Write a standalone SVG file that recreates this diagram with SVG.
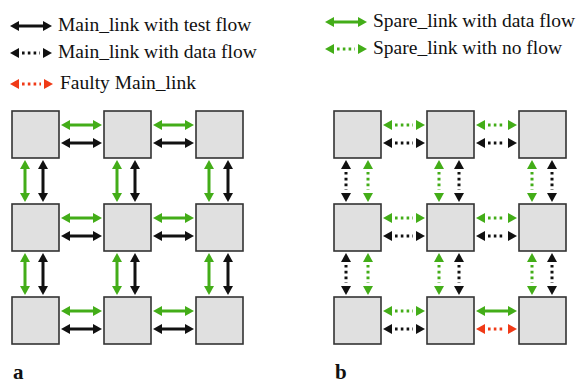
<svg xmlns="http://www.w3.org/2000/svg" width="576" height="385" viewBox="0 0 576 385">
<style>
.box{fill:#e0e0e0;stroke:#333;stroke-width:1.6}
.ln{fill:none;stroke-width:3}
.k{stroke:#111}
.g{stroke:#43ad18}
.r{stroke:#f03a17}
.s.k{marker-start:url(#hk);marker-end:url(#hk)}
.s.g{marker-start:url(#hg);marker-end:url(#hg)}
.d{stroke-dasharray:2.6 3.2}
.d.k{marker-start:url(#dk);marker-end:url(#dk)}
.d.g{marker-start:url(#dg);marker-end:url(#dg)}
.d.r{marker-start:url(#dr);marker-end:url(#dr)}
.t{font-size:19.5px;fill:#111}
.lbl{font-size:21px;font-weight:bold;fill:#111}
</style>
<defs>
<marker id="hk" viewBox="0 0 9 10" refX="4" refY="5" markerWidth="9" markerHeight="10" markerUnits="userSpaceOnUse" orient="auto-start-reverse"><path d="M0,0L9,5L0,10z" fill="#111"/></marker>
<marker id="hg" viewBox="0 0 9 10" refX="4" refY="5" markerWidth="9" markerHeight="10" markerUnits="userSpaceOnUse" orient="auto-start-reverse"><path d="M0,0L9,5L0,10z" fill="#43ad18"/></marker>
<marker id="dk" viewBox="0 0 9 10" refX="-3" refY="5" markerWidth="9" markerHeight="10" markerUnits="userSpaceOnUse" orient="auto-start-reverse"><path d="M0,0L9,5L0,10z" fill="#111"/></marker>
<marker id="dg" viewBox="0 0 9 10" refX="-3" refY="5" markerWidth="9" markerHeight="10" markerUnits="userSpaceOnUse" orient="auto-start-reverse"><path d="M0,0L9,5L0,10z" fill="#43ad18"/></marker>
<marker id="dr" viewBox="0 0 9 10" refX="-3" refY="5" markerWidth="9" markerHeight="10" markerUnits="userSpaceOnUse" orient="auto-start-reverse"><path d="M0,0L9,5L0,10z" fill="#f03a17"/></marker>
</defs>
<rect width="576" height="385" fill="#fff"/>

<g id="legend" font-family="Liberation Serif, DejaVu Serif, serif">
<path class="ln s k" d="M15,26H47"/>
<path class="ln d k" d="M22,53H40"/>
<path class="ln d r" d="M22,84H41"/>
<path class="ln s g" d="M330,22H362"/>
<path class="ln d g" d="M337,49H355"/>
<text class="t" x="58" y="31">Main_link with test flow</text>
<text class="t" x="58" y="58">Main_link with data flow</text>
<text class="t" x="60" y="89">Faulty Main_link</text>
<text class="t" x="373" y="27">Spare_link with data flow</text>
<text class="t" x="373" y="54">Spare_link with no flow</text>
</g>

<g id="a-nodes">
<g id="a11"><rect class="box" x="12" y="111" width="47" height="47"/></g>
<g id="a12"><rect class="box" x="104" y="111" width="47" height="47"/></g>
<g id="a13"><rect class="box" x="196" y="111" width="47" height="47"/></g>
<g id="a21"><rect class="box" x="12" y="204" width="47" height="47"/></g>
<g id="a22"><rect class="box" x="104" y="204" width="47" height="47"/></g>
<g id="a23"><rect class="box" x="196" y="204" width="47" height="47"/></g>
<g id="a31"><rect class="box" x="12" y="297" width="47" height="47"/></g>
<g id="a32"><rect class="box" x="104" y="297" width="47" height="47"/></g>
<g id="a33"><rect class="box" x="196" y="297" width="47" height="47"/></g>
</g>

<g id="b-nodes">
<g id="b11"><rect class="box" x="334" y="111" width="47" height="47"/></g>
<g id="b12"><rect class="box" x="427" y="111" width="47" height="47"/></g>
<g id="b13"><rect class="box" x="519" y="111" width="47" height="47"/></g>
<g id="b21"><rect class="box" x="334" y="204" width="47" height="47"/></g>
<g id="b22"><rect class="box" x="427" y="204" width="47" height="47"/></g>
<g id="b23"><rect class="box" x="519" y="204" width="47" height="47"/></g>
<g id="b31"><rect class="box" x="334" y="297" width="47" height="47"/></g>
<g id="b32"><rect class="box" x="427" y="297" width="47" height="47"/></g>
<g id="b33"><rect class="box" x="519" y="297" width="47" height="47"/></g>
</g>

<g id="connectors">
<path class="ln s g" d="M66,125H97"/><path class="ln s k" d="M66,143H97"/>
<path class="ln s g" d="M158,125H189"/><path class="ln s k" d="M158,143H189"/>
<path class="ln s g" d="M66,218H97"/><path class="ln s k" d="M66,236H97"/>
<path class="ln s g" d="M158,218H189"/><path class="ln s k" d="M158,236H189"/>
<path class="ln s g" d="M66,311H97"/><path class="ln s k" d="M66,329H97"/>
<path class="ln s g" d="M158,311H189"/><path class="ln s k" d="M158,329H189"/>
<path class="ln s g" d="M25,165V197"/><path class="ln s k" d="M43,165V197"/>
<path class="ln s g" d="M117,165V197"/><path class="ln s k" d="M135,165V197"/>
<path class="ln s g" d="M209,165V197"/><path class="ln s k" d="M228,165V197"/>
<path class="ln s g" d="M25,258V290"/><path class="ln s k" d="M43,258V290"/>
<path class="ln s g" d="M117,258V290"/><path class="ln s k" d="M135,258V290"/>
<path class="ln s g" d="M209,258V290"/><path class="ln s k" d="M228,258V290"/>
<path class="ln d g" d="M395,125H413"/><path class="ln d k" d="M395,143H413"/>
<path class="ln d g" d="M488,125H505"/><path class="ln d k" d="M488,143H505"/>
<path class="ln d g" d="M395,218H413"/><path class="ln d k" d="M395,236H413"/>
<path class="ln d g" d="M488,218H505"/><path class="ln d k" d="M488,236H505"/>
<path class="ln d g" d="M395,311H413"/><path class="ln d k" d="M395,329H413"/>
<path class="ln s g" d="M481,311H512"/><path class="ln d r" d="M488,329H505"/>
<path class="ln d k" d="M346,172V190"/><path class="ln d g" d="M368,172V190"/>
<path class="ln d g" d="M439,172V190"/><path class="ln d k" d="M459,172V190"/>
<path class="ln d g" d="M532,172V190"/><path class="ln d k" d="M552,172V190"/>
<path class="ln d k" d="M346,265V283"/><path class="ln d g" d="M368,265V283"/>
<path class="ln d g" d="M439,265V283"/><path class="ln d k" d="M459,265V283"/>
<path class="ln d g" d="M532,265V283"/><path class="ln d k" d="M552,265V283"/>
</g>

<g id="labels" font-family="Liberation Serif, DejaVu Serif, serif">
<text class="lbl" x="13" y="379">a</text>
<text class="lbl" x="335" y="379">b</text>
</g>
</svg>
